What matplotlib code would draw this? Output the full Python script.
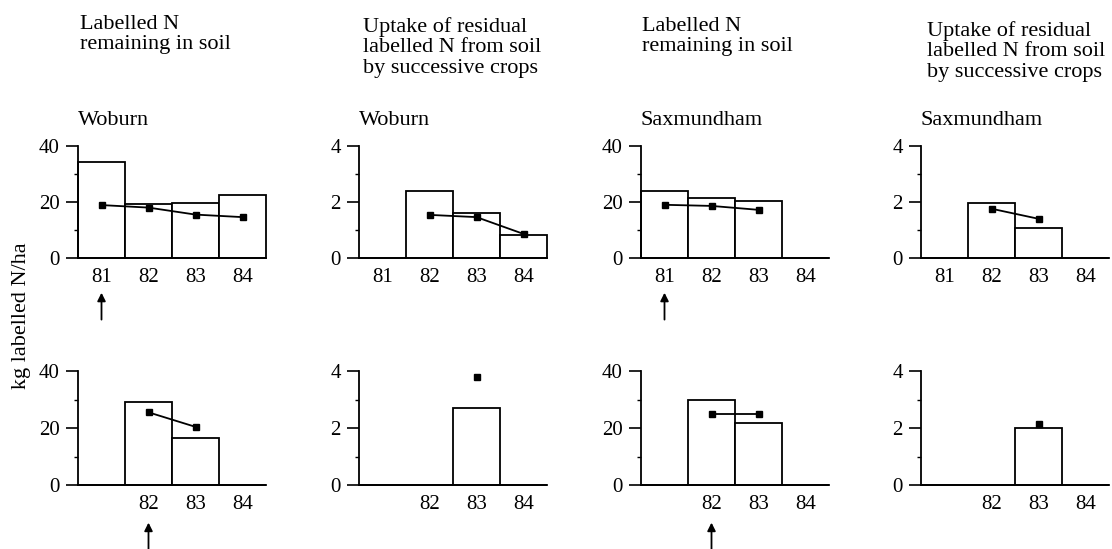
import matplotlib
matplotlib.use("Agg")
import matplotlib.pyplot as plt
import numpy as np

plt.rcParams['font.family'] = ['Liberation Serif', 'DejaVu Serif']

years = ["81", "82", "83", "84"]

# Top row
woburn_soil_bars = [34.3, 19.2, 19.7, 22.4]
woburn_soil_pts = [18.9, 18.0, 15.5, 14.6]
woburn_uptake_bars = [0.0, 2.39, 1.6, 0.82]
woburn_uptake_pts = [None, 1.54, 1.46, 0.86]
sax_soil_bars = [23.8, 21.4, 20.2, 0.0]
sax_soil_pts = [19.0, 18.6, 17.2, None]
sax_uptake_bars = [0.0, 1.97, 1.06, 0.0]
sax_uptake_pts = [None, 1.76, 1.40, None]

# Bottom row
woburn_soil_bars2 = [0.0, 29.2, 16.6, 0.0]
woburn_soil_pts2 = [None, 25.5, 20.4, None]
woburn_uptake_bars2 = [0.0, 0.0, 2.69, 0.0]
woburn_uptake_pts2 = [None, None, 3.79, None]
sax_soil_bars2 = [0.0, 29.8, 21.9, 0.0]
sax_soil_pts2 = [None, 24.9, 24.9, None]
sax_uptake_bars2 = [0.0, 0.0, 2.0, 0.0]
sax_uptake_pts2 = [None, None, 2.14, None]

headers = ["Labelled N\nremaining in soil",
           "Uptake of residual\nlabelled N from soil\nby successive crops",
           "Labelled N\nremaining in soil",
           "Uptake of residual\nlabelled N from soil\nby successive crops"]
sites = ["Woburn", "Woburn", "Saxmundham", "Saxmundham"]
ylabel = "kg labelled N/ha"

W, H = 1112, 549
fig = plt.figure(figsize=(W / 100, H / 100), dpi=100)

lefts = [78, 359, 641, 921]
width_px = 188
rows = [(146, 258), (371, 485)]

panels = [
    [(woburn_soil_bars, woburn_soil_pts, 40), (woburn_uptake_bars, woburn_uptake_pts, 4),
     (sax_soil_bars, sax_soil_pts, 40), (sax_uptake_bars, sax_uptake_pts, 4)],
    [(woburn_soil_bars2, woburn_soil_pts2, 40), (woburn_uptake_bars2, woburn_uptake_pts2, 4),
     (sax_soil_bars2, sax_soil_pts2, 40), (sax_uptake_bars2, sax_uptake_pts2, 4)],
]

x = np.arange(len(years))
axes = {}
for r, (ytop, ybot) in enumerate(rows):
    for c, left in enumerate(lefts):
        ax = fig.add_axes([left / W, 1 - ybot / H, width_px / W, (ybot - ytop) / H])
        axes[(r, c)] = ax
        bars, pts, ymax = panels[r][c]
        ax.bar(x, bars, width=1.0, facecolor='white', edgecolor='black', linewidth=1.3,
               zorder=2, clip_on=False)
        px = [xi for xi, p in zip(x, pts) if p is not None]
        py = [p for p in pts if p is not None]
        ax.plot(px, py, color='black', lw=1.3, marker='s', ms=5, zorder=3, clip_on=False)
        ax.set_xlim(-0.5, 3.5)
        ax.set_ylim(0, ymax)
        ax.set_yticks([0, ymax / 2, ymax])
        ax.set_yticklabels([f"{v:g}" for v in [0, ymax / 2, ymax]])
        ax.set_yticks([ymax / 4, 3 * ymax / 4], minor=True)
        ax.tick_params(axis='y', which='major', direction='out', length=9, width=1.2,
                       labelsize=15, pad=4)
        ax.tick_params(axis='y', which='minor', direction='out', length=3, width=1.0)
        if r == 0:
            ax.set_xticks(x)
            ax.set_xticklabels(years)
        else:
            ax.set_xticks(x[1:])
            ax.set_xticklabels(years[1:])
        ax.tick_params(axis='x', length=0, labelsize=15, pad=7)
        for s in ['top', 'right']:
            ax.spines[s].set_visible(False)
        for s in ['left', 'bottom']:
            ax.spines[s].set_linewidth(1.3)
        ax.set_facecolor('none')
        if r == 0:
            ax.text(0.0, 1.0 + 21 / 112, sites[c], transform=ax.transAxes,
                    fontsize=16, ha='left', va='baseline')

# Headers
header_pos = [(80, 15), (363, 17), (642, 17), (927, 21)]
for (hx, hy), txt in zip(header_pos, headers):
    fig.text(hx / W, 1 - hy / H, txt, fontsize=16, ha='left', va='top', linespacing=1.1)

# y label
fig.text(22 / W, 1 - 316 / H, ylabel, rotation=90, fontsize=16, ha='center', va='center')

# Arrows
arrow_specs = [((0, 0), 0, -0.31, -0.55), ((0, 2), 0, -0.31, -0.55),
               ((1, 0), 1, -0.33, -0.65), ((1, 2), 1, -0.33, -0.65)]
for key, xi, yhead, ytail in arrow_specs:
    ax = axes[key]
    ax.annotate('', xy=(xi, yhead), xytext=(xi, ytail),
                xycoords=ax.get_xaxis_transform(), textcoords=ax.get_xaxis_transform(),
                arrowprops=dict(arrowstyle='-|>', color='black', lw=1.3,
                                mutation_scale=12, shrinkA=0, shrinkB=0),
                annotation_clip=False)

fig.savefig("out.png", dpi=100)
